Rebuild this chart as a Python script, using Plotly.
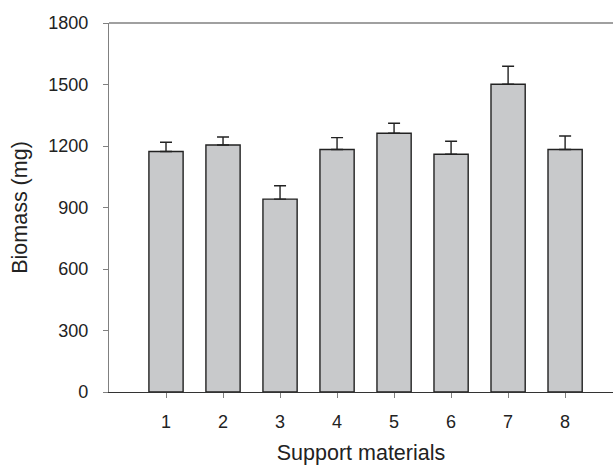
import plotly.graph_objects as go

categories = [1, 2, 3, 4, 5, 6, 7, 8]
biomass = [1173, 1205, 941, 1183, 1262, 1160, 1501, 1183]
errors = [45, 39, 65, 58, 49, 63, 88, 66]
y_ticks = [0, 300, 600, 900, 1200, 1500, 1800]

FONT = "Liberation Sans, Arial, sans-serif"

fig = go.Figure()
fig.add_trace(go.Bar(
    x=categories,
    y=biomass,
    width=0.6,
    marker=dict(color="#c8c9cb", line=dict(color="#222222", width=1.4)),
    error_y=dict(type="data", array=errors, arrayminus=[0] * len(errors),
                 symmetric=False, color="#222222", thickness=1.4, width=6),
))

fig.add_shape(type="line", xref="paper", yref="paper", x0=0, x1=1, y0=1, y1=1,
              line=dict(color="#808080", width=1.4))

fig.update_layout(
    width=613, height=466,
    margin=dict(l=109, r=0, t=23, b=74),
    paper_bgcolor="white", plot_bgcolor="white",
    showlegend=False,
    font=dict(family=FONT, color="#222222", size=18),
    xaxis=dict(
        range=[0, 8.84], tickvals=categories, ticktext=[str(c) for c in categories],
        ticks="outside", ticklen=5, tickcolor="#808080", tickwidth=1.2,
        showline=True, linecolor="#333333", linewidth=1.4,
        showgrid=False, zeroline=False,
        tickfont=dict(size=18), ticklabelstandoff=8,
        title=dict(text="Support materials", font=dict(size=21.5), standoff=14),
    ),
    yaxis=dict(
        range=[0, 1800], tickvals=y_ticks, ticktext=[str(v) for v in y_ticks],
        ticks="outside", ticklen=5, tickcolor="#808080", tickwidth=1.2,
        showline=True, linecolor="#808080", linewidth=1.4,
        showgrid=False, zeroline=False,
        tickfont=dict(size=18), ticklabelstandoff=11,
        title=dict(text="Biomass (mg)", font=dict(size=21.5), standoff=14),
    ),
)

fig.write_html("out.html", config={"displayModeBar": False},
               post_script="document.body.style.margin='0';")
